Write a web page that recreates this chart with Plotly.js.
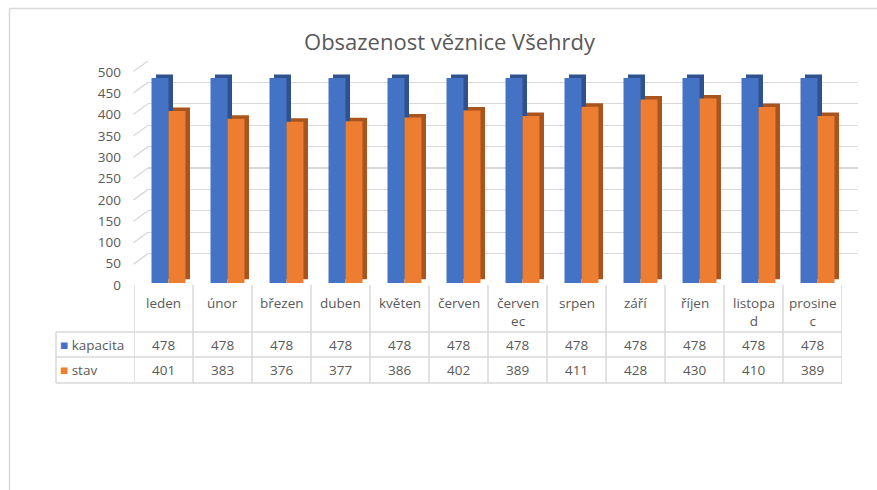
<!DOCTYPE html>
<html>
<head>
<meta charset="utf-8">
<script src="https://cdn.plot.ly/plotly-3.0.1.min.js"></script>
<style>html,body{margin:0;padding:0;background:#fff;}#chart{width:877px;height:490px;}</style>
</head>
<body>
<div id="chart"></div>
<script>
const months = ["leden","únor","březen","duben","květen","červen","červenec","srpen","září","říjen","listopad","prosinec"];
const monthLabels = ["leden","únor","březen","duben","květen","červen","červen<br>ec","srpen","září","říjen","listopa<br>d","prosine<br>c"];
const kapacita = [478,478,478,478,478,478,478,478,478,478,478,478];
const stav = [401,383,376,377,386,402,389,411,428,430,410,389];
const seriesNames = ["kapacita","stav"];
const yTicks = [0,50,100,150,200,250,300,350,400,450,500];

const W = 877, H = 490;
const px = v => v / W;
const py = v => (H - v) / H;

const blue = "#4472C4", orange = "#ED7D31";
const blueDark = "#2F528F", orangeDark = "#A9541C";
const grid = "#D9D9D9", txt = "#595959";
const FONT = "'Open Sans', 'Noto Sans', sans-serif";
const catRange = [-0.5, months.length - 0.5];

const traces = [
  {type:"scatter", x:[0.5], y:[0], xaxis:"x", yaxis:"y", mode:"none", hoverinfo:"skip", showlegend:false},
  {type:"bar", x:months, y:kapacita, xaxis:"x2", yaxis:"y2", marker:{color:blueDark}, hoverinfo:"skip", showlegend:false},
  {type:"bar", x:months, y:stav, xaxis:"x2", yaxis:"y2", marker:{color:orangeDark}, hoverinfo:"skip", showlegend:false},
  {type:"bar", name:seriesNames[0], x:months, y:kapacita, xaxis:"x3", yaxis:"y3", marker:{color:blue}, showlegend:false},
  {type:"bar", name:seriesNames[1], x:months, y:stav, xaxis:"x3", yaxis:"y3", marker:{color:orange}, showlegend:false},
  {type:"scatter", x:[months[0]], y:[0], xaxis:"x3", yaxis:"y4", mode:"none", hoverinfo:"skip", showlegend:false},
  {type:"scatter", x:[0], y:[1.5], xaxis:"x5", yaxis:"y5", mode:"none", hoverinfo:"skip", showlegend:false}
];

const hidden = {showgrid:false, zeroline:false, showticklabels:false, showline:false, ticks:""};

const shapes = [];
const annotations = [];

shapes.push({type:"line", xref:"paper", yref:"paper", x0:px(9.5), x1:1, y0:py(8.5), y1:py(8.5), line:{color:grid, width:1.5}});
shapes.push({type:"line", xref:"paper", yref:"paper", x0:px(9.5), x1:px(9.5), y0:py(8.5), y1:0, line:{color:grid, width:1.5}});

yTicks.forEach(v => {
  shapes.push({type:"line", xref:"paper", xsizemode:"pixel", xanchor:px(148), x0:-14.5, x1:0,
    yref:"y", ysizemode:"pixel", yanchor:v, y0:-10.5, y1:0, line:{color:grid, width:1.3}, layer:"below"});
});

const tTop = 285, tHead = 332, tRow = 357, tBot = 383, tLeft = 56;
for (let i = 0; i <= months.length; i++) {
  shapes.push({type:"line", xref:"x5", yref:"paper", x0:i-0.5, x1:i-0.5, y0:py(tTop), y1:py(tBot), line:{color:grid, width:1.5}});
}
shapes.push({type:"line", xref:"paper", yref:"paper", x0:px(tLeft), x1:px(tLeft), y0:py(tHead), y1:py(tBot), line:{color:grid, width:1.5}});
[tHead, tRow, tBot].forEach(yy => {
  shapes.push({type:"line", xref:"paper", yref:"paper", x0:px(tLeft), x1:px(842), y0:py(yy), y1:py(yy), line:{color:grid, width:1.5}});
});

const tf = {family:FONT, size:13.5, color:txt};
monthLabels.forEach((m, i) => {
  annotations.push({xref:"x5", yref:"paper", x:i, y:py(292), yanchor:"top", xanchor:"center", text:m, showarrow:false, font:tf});
  annotations.push({xref:"x5", yref:"paper", x:i, y:py(345), yanchor:"middle", xanchor:"center", text:String(kapacita[i]), showarrow:false, font:tf});
  annotations.push({xref:"x5", yref:"paper", x:i, y:py(370), yanchor:"middle", xanchor:"center", text:String(stav[i]), showarrow:false, font:tf});
});
annotations.push({xref:"paper", yref:"paper", x:px(58), y:py(345), xanchor:"left", yanchor:"middle",
  text:"<span style='color:"+blue+"'>■</span> "+seriesNames[0], showarrow:false, font:tf});
annotations.push({xref:"paper", yref:"paper", x:px(58), y:py(370), xanchor:"left", yanchor:"middle",
  text:"<span style='color:"+orange+"'>■</span> "+seriesNames[1], showarrow:false, font:tf});

const layout = {
  width:W, height:H,
  margin:{l:0, r:0, t:0, b:0, pad:0},
  paper_bgcolor:"#fff", plot_bgcolor:"rgba(0,0,0,0)",
  font:{family:FONT, color:txt},
  title:{text:"Obsazenost věznice Všehrdy", x:px(449.5), xanchor:"center", y:py(42), yanchor:"middle", xref:"paper", yref:"paper",
    font:{family:FONT, size:22, color:txt}},
  barmode:"group", bargap:0.424, bargroupgap:0,
  showlegend:false,
  xaxis: Object.assign({}, hidden, {domain:[px(148), px(858)], range:[0,1], anchor:"y"}),
  yaxis: {domain:[py(275), py(61)], range:[0,500], dtick:50, showgrid:true, gridcolor:grid, gridwidth:1.3,
    zeroline:false, showticklabels:false, showline:false, ticks:"", anchor:"x"},
  xaxis2: Object.assign({}, hidden, {domain:[px(143.5), px(851.5)], anchor:"y2", type:"category", range:catRange}),
  yaxis2: Object.assign({}, hidden, {domain:[py(279.5), py(65)], range:[0,500], anchor:"x2"}),
  xaxis3: Object.assign({}, hidden, {domain:[px(139), px(847)], anchor:"y3", type:"category", range:catRange}),
  yaxis3: Object.assign({}, hidden, {domain:[py(283), py(68.5)], range:[0,500], anchor:"x3"}),
  yaxis4: {domain:[py(285), py(72)], range:[0,500], tickvals:yTicks, showgrid:false, zeroline:false, showline:false,
    ticks:"", anchor:"free", position:px(121), side:"left", tickfont:{family:FONT, size:13.5, color:txt}},
  xaxis5: Object.assign({}, hidden, {domain:[px(134), px(842)], range:catRange, anchor:"y5"}),
  yaxis5: Object.assign({}, hidden, {domain:[0, 0.05], range:[1,2], anchor:"x5"}),
  shapes: shapes,
  annotations: annotations
};

Plotly.newPlot("chart", traces, layout, {staticPlot:true, displayModeBar:false});
</script>
</body>
</html>
